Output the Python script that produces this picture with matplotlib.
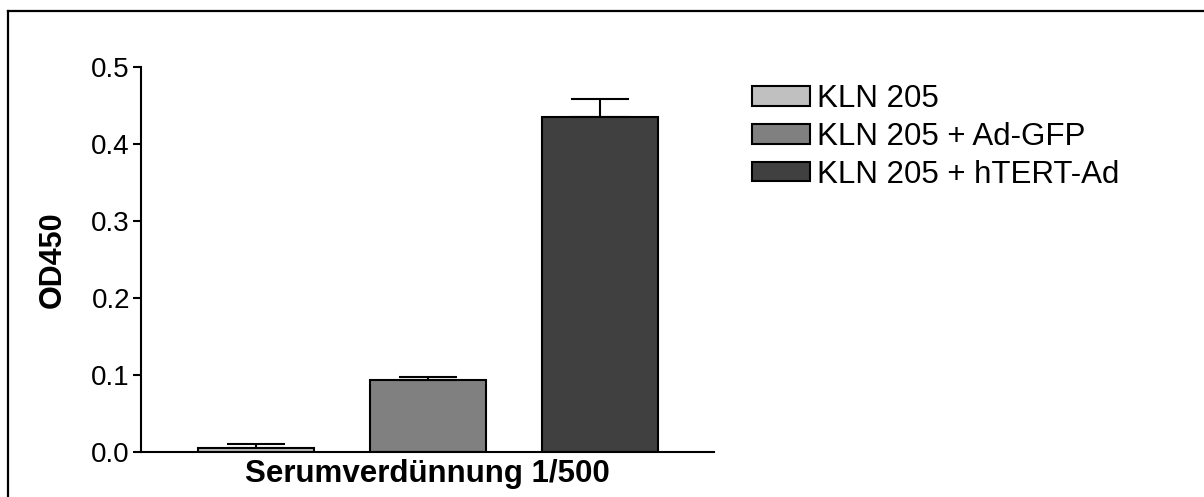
import matplotlib.pyplot as plt
from matplotlib.lines import Line2D

plt.rcParams['font.family'] = ['Liberation Sans', 'DejaVu Sans']

groups = ["KLN 205", "KLN 205 + Ad-GFP", "KLN 205 + hTERT-Ad"]
od450 = [0.005, 0.093, 0.435]
sem = [0.005, 0.005, 0.023]
colors = ["#c0c0c0", "#808080", "#404040"]
yticks = [0.0, 0.1, 0.2, 0.3, 0.4, 0.5]

W, H = 1204, 497
fig = plt.figure(figsize=(W / 100, H / 100), dpi=100)
ax = fig.add_axes([141 / W, 1 - 452 / H, (714 - 141) / W, (452 - 67) / H])

x = range(len(groups))
bars = ax.bar(x, od450, width=0.67, color=colors, edgecolor="black",
              linewidth=1.5, label=groups, zorder=2)
ax.errorbar(x, od450, yerr=[[0] * len(sem), sem], fmt="none", ecolor="black",
            elinewidth=1.5, capsize=21, capthick=1.5, zorder=3)

ax.set_xlim(-0.669, 2.663)
ax.set_ylim(0, 0.5)
ax.set_yticks(yticks)
ax.set_yticklabels(["%.1f" % t for t in yticks])
ax.set_xticks([])
ax.tick_params(axis="y", direction="out", length=6, width=1.5, labelsize=20, pad=2)
for s in ["top", "right"]:
    ax.spines[s].set_visible(False)
for s in ["left", "bottom"]:
    ax.spines[s].set_linewidth(1.5)

ax.set_xlabel("Serumverdünnung 1/500", fontsize=22.5, fontweight="bold", labelpad=5)
ax.set_ylabel("OD450", fontsize=22, fontweight="bold", labelpad=17)

leg = ax.legend(handles=bars.patches, labels=groups, loc="upper left",
                bbox_to_anchor=(752 / W, 1 - 84 / H), bbox_transform=fig.transFigure,
                frameon=False, fontsize=22.5, handlelength=1.85, handleheight=0.58,
                handletextpad=0.22, labelspacing=0.25, borderpad=0, borderaxespad=0)

# outer frame of the original figure
fig.add_artist(Line2D([8 / W, 8 / W], [0, 1 - 11 / H], color="black", lw=1.6,
                      transform=fig.transFigure))
fig.add_artist(Line2D([8 / W, 1], [1 - 11 / H, 1 - 11 / H], color="black", lw=1.6,
                      transform=fig.transFigure))

plt.savefig("out.png", dpi=100)
